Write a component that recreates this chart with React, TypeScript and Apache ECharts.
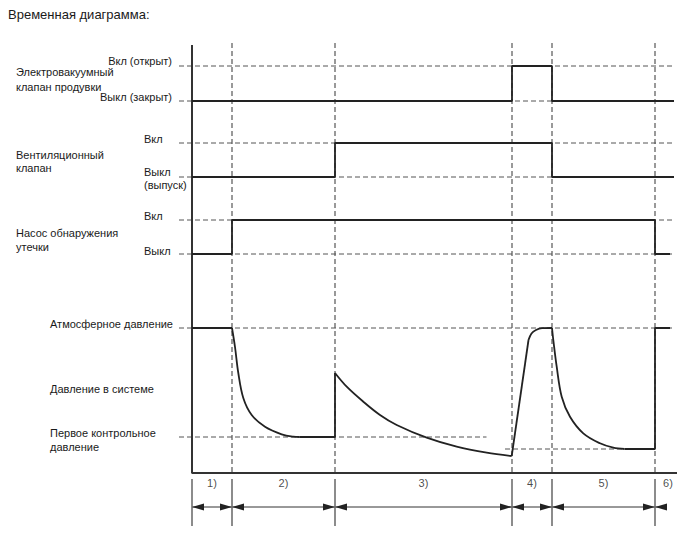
import React, { useEffect, useRef } from "react";
import * as echarts from "echarts";

// ---- data (time units along x, level units along y; 0 = bottom axis) ----
const boundaries = [0, 8, 28.6, 64, 72, 92.6];
const timeEnd = 97;
const axisTop = 428;
const dashedTop = 430;
const refStart = -2.6;
const refEnd = 96.4;

// full-width dashed reference levels: EVAP on/off, vent on/off, pump on/off, atmospheric
const refLevels = [407, 372, 330, 296, 253, 219, 145];
const firstCtrlLine = [[-2.6, 36], [58.9, 36]];
const secondCtrlLine = [[62.6, 24], [92.6, 24]];

const evapSignal = [[0, 372], [64, 372], [64, 407], [72, 407], [72, 372], [96.4, 372]];
const ventSignal = [[0, 296], [28.6, 296], [28.6, 330], [72, 330], [72, 296], [96.4, 296]];
const pumpSignal = [[0, 219], [8, 219], [8, 253], [92.6, 253], [92.6, 219], [95.6, 219]];

const pressureStraight = [
  [[0, 145], [8, 145]],
  [[21.5, 36], [28.6, 36], [28.6, 100]],
  [[63.94, 17], [67.3, 133]],
  [[86.5, 24], [92.6, 24], [92.6, 145], [95.6, 145]],
];
const pressureCurves = [
  [[8, 145], [8.6, 126], [9.26, 100], [10.26, 75], [11.94, 58], [14.6, 46.3], [17.94, 38.7], [20.26, 36.3], [21.5, 36]],
  [[28.6, 100], [30.94, 86.3], [34.26, 71.3], [37.6, 58], [40.94, 48], [46.94, 35.3], [52.94, 26.3], [58.94, 20.3], [63.94, 17]],
  [[67.3, 133], [67.9, 139.5], [68.8, 143], [70, 144.8], [72, 145]],
  [[72, 145], [72.26, 133], [72.94, 106.3], [73.94, 76.3], [75.6, 56.3], [78.26, 39.7], [81.6, 29.7], [84.26, 25.3], [86.5, 24]],
];

const periodLabels = ["1)", "2)", "3)", "4)", "5)", "6)"];
const lastArrowEnd = 95;
const lastLabelX = 95.2;
const dimArrowY = -34;
const dimTickTop = -6;
const dimTickBottom = -53;
const dimLabelY = -10;

const FONT = '"Liberation Sans", Arial, Helvetica, sans-serif';
const INK = "#1a1a1a";
const OFF = 8; // page margin offset of the chart container

function txt(x: number, y: number, text: string, align = "left", size = 11) {
  return {
    type: "text",
    x: x - OFF,
    y: y - OFF,
    silent: true,
    style: {
      text,
      fill: INK,
      font: `${size}px ${FONT}`,
      align,
      textAlign: align,
      verticalAlign: "middle",
      textVerticalAlign: "middle",
    },
  };
}

export default function App() {
  const ref = useRef<HTMLDivElement>(null);

  useEffect(() => {
    if (!ref.current) return;
    const chart = echarts.init(ref.current, null, { renderer: "svg" });

    const dashStyle = { color: "#555", width: 1, type: [5, 3] as any };
    const series: any[] = [];

    // vertical dashed boundary lines
    boundaries.slice(1).forEach((b) => {
      series.push({
        type: "line",
        data: [[b, dashedTop], [b, 0]],
        symbol: "none",
        silent: true,
        z: 1,
        lineStyle: { color: "#555", width: 1.2, type: [5, 3] },
      });
    });
    // horizontal dashed reference levels
    refLevels.forEach((lv) => {
      series.push({
        type: "line",
        data: [[refStart, lv], [refEnd, lv]],
        symbol: "none",
        silent: true,
        z: 1,
        lineStyle: dashStyle,
      });
    });
    [firstCtrlLine, secondCtrlLine].forEach((d) => {
      series.push({ type: "line", data: d, symbol: "none", silent: true, z: 1, lineStyle: dashStyle });
    });

    // axes
    series.push({
      type: "line",
      data: [[0, axisTop], [0, 0], [timeEnd, 0]],
      symbol: "none",
      silent: true,
      z: 3,
      lineStyle: { color: "#333", width: 2 },
    });

    const sig = { color: "#222", width: 1.8 };
    [evapSignal, ventSignal, pumpSignal].forEach((d) => {
      series.push({ type: "line", data: d, symbol: "none", silent: true, z: 4, lineStyle: sig });
    });
    pressureStraight.forEach((d) => {
      series.push({ type: "line", data: d, symbol: "none", silent: true, z: 4, lineStyle: sig });
    });
    pressureCurves.forEach((d) => {
      series.push({
        type: "line",
        data: d,
        symbol: "none",
        silent: true,
        z: 4,
        smooth: 0.35,
        lineStyle: sig,
      });
    });

    // dimension arrows
    const dimData: number[][] = [];
    for (let i = 0; i < boundaries.length - 1; i++) dimData.push([boundaries[i], boundaries[i + 1], 1, 1]);
    dimData.push([boundaries[boundaries.length - 1], lastArrowEnd, 1, 0]);

    series.push({
      type: "custom",
      silent: true,
      z: 5,
      data: dimData,
      renderItem: (params: any, api: any) => {
        const a = api.value(0);
        const b = api.value(1);
        const sa = api.value(2);
        const sb = api.value(3);
        const p1 = api.coord([a, dimArrowY]);
        const p2 = api.coord([b, dimArrowY]);
        const y = p1[1];
        const L = 12;
        const H = 3.5;
        const children: any[] = [
          {
            type: "line",
            shape: { x1: p1[0], y1: y, x2: p2[0], y2: y },
            style: { stroke: "#333", lineWidth: 1 },
          },
        ];
        if (sa) {
          children.push({
            type: "polygon",
            shape: { points: [[p1[0], y], [p1[0] + L, y - H], [p1[0] + L, y + H]] },
            style: { fill: "#222" },
          });
        }
        if (sb) {
          children.push({
            type: "polygon",
            shape: { points: [[p2[0], y], [p2[0] - L, y - H], [p2[0] - L, y + H]] },
            style: { fill: "#222" },
          });
        }
        return { type: "group", children };
      },
    });

    // dimension ticks
    boundaries.forEach((b) => {
      series.push({
        type: "line",
        data: [[b, dimTickTop], [b, dimTickBottom]],
        symbol: "none",
        silent: true,
        z: 5,
        lineStyle: { color: "#666", width: 1.5 },
      });
    });

    // period labels
    const labelData = periodLabels.map((name, i) => {
      const x = i < boundaries.length - 1 ? (boundaries[i] + boundaries[i + 1]) / 2 : lastLabelX;
      return { name, value: [x, dimLabelY] };
    });
    series.push({
      type: "scatter",
      data: labelData,
      symbolSize: 1,
      itemStyle: { color: "rgba(0,0,0,0)" },
      silent: true,
      z: 6,
      label: {
        show: true,
        position: "inside",
        formatter: "{b}",
        color: INK,
        fontSize: 11,
        fontFamily: FONT,
      },
    });

    chart.setOption({
      animation: false,
      tooltip: { show: false },
      grid: { left: 172 - OFF, right: 6, top: 43 - OFF, bottom: 7 },
      xAxis: { type: "value", min: -4, max: 98, show: false },
      yAxis: { type: "value", min: -80, max: 430, show: false },
      series,
      graphic: [
        txt(8, 14, "Временная диаграмма:", "left", 13),
        txt(172, 61, "Вкл (открыт)", "right"),
        txt(16, 72, "Электровакуумный"),
        txt(16, 87, "клапан продувки"),
        txt(172, 97, "Выкл (закрыт)", "right"),
        txt(144, 139, "Вкл"),
        txt(16, 155, "Вентиляционный"),
        txt(16, 168, "клапан"),
        txt(144, 172, "Выкл"),
        txt(144, 185, "(выпуск)"),
        txt(144, 216, "Вкл"),
        txt(16, 233, "Насос обнаружения"),
        txt(16, 247, "утечки"),
        txt(144, 251, "Выкл"),
        txt(50, 324, "Атмосферное давление"),
        txt(50, 389, "Давление в системе"),
        txt(50, 433, "Первое контрольное"),
        txt(50, 447, "давление"),
      ],
    });

    return () => chart.dispose();
  }, []);

  return <div ref={ref} style={{ width: 680, height: 552, background: "#fff" }} />;
}
